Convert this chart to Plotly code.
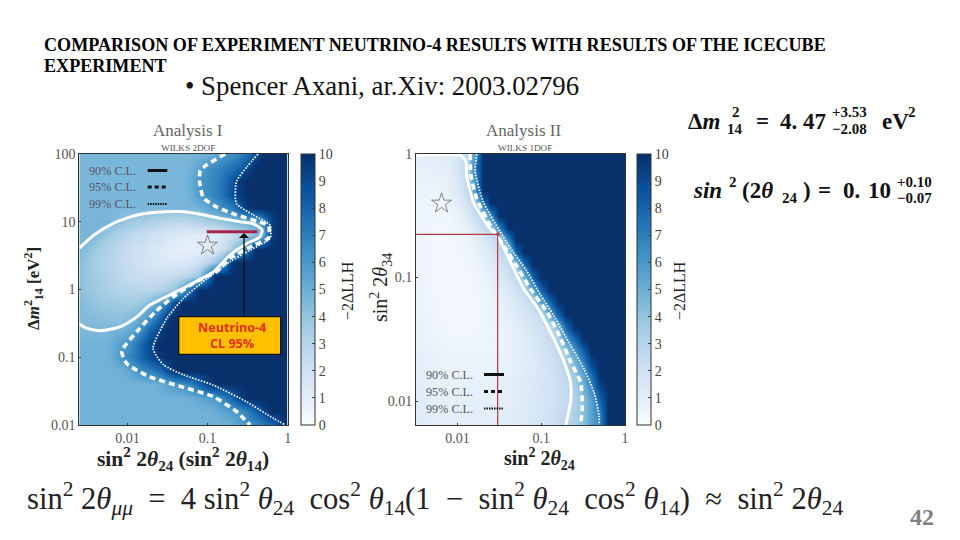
import numpy as np
import plotly.graph_objects as go

W, H = 960, 540
SERIF = "Liberation Serif"
DARK = 10
PAGE = 8  # the page draws the figure 8px in from its top left corner

# ---- Analysis I: -2dLLH, top row first; rows shorter than
# the grid are saturated (dark) for the remaining columns
a1_logx = [-2.6, -2.5, -2.4, -2.3, -2.2, -2.1, -2.0, -1.9, -1.8, -1.7, -1.6, -1.5, -1.4, -1.3,
           -1.2, -1.1, -1.0, -0.9, -0.8, -0.7, -0.6, -0.5, -0.4, -0.3, -0.2, -0.1, 0.0]
a1_logy = [2.0, 1.8, 1.6, 1.4, 1.2, 1.0, 0.8, 0.6, 0.4, 0.2, 0.0, -0.2, -0.4, -0.6, -0.8, -1.0,
           -1.2, -1.4, -1.6, -1.8, -2.0]
a1_rows = [
 [4.7,4.7,4.7,4.7,4.7,4.7,4.7,4.7,4.7,4.7,4.7,4.7,4.7,4.7,4.7,4.7,4.8,5.2,5.9,6.3,6.8,7.5,8.8],
 [4.6,4.6,4.6,4.6,4.6,4.6,4.6,4.6,4.6,4.6,4.6,4.6,4.6,4.7,4.9,5.6,6.2,6.6,7.0,7.4,8.0,9.2],
 [4.6,4.6,4.6,4.6,4.6,4.6,4.6,4.6,4.6,4.6,4.6,4.6,4.6,4.6,5.2,6.0,6.4,6.8,7.5,8.5,9.6],
 [4.6,4.6,4.6,4.6,4.6,4.6,4.6,4.6,4.6,4.6,4.6,4.6,4.6,4.6,5.0,5.8,6.3,6.8,7.5,8.6,9.6],
 [4.6,4.6,4.6,4.6,4.6,4.6,4.6,4.6,4.6,4.6,4.6,4.6,4.6,4.6,4.7,4.8,5.3,5.9,6.4,7.0,8.2,9.8],
 [4.7,4.7,4.7,4.7,4.6,4.2,3.8,3.6,3.4,3.2,3.0,2.8,2.7,2.7,2.9,3.1,3.4,3.6,4.0,4.4,4.7,5.0,5.5,6.5,9.2],
 [4.7,4.7,4.5,4.0,3.6,3.2,2.9,2.6,2.4,2.1,1.9,1.6,1.4,1.2,1.1,1.1,1.2,1.4,1.7,2.2,2.8,3.5,4.2,5.2,9.5],
 [4.6,4.2,3.7,3.3,3.0,2.7,2.4,2.1,1.9,1.6,1.4,1.2,1.0,0.9,0.9,1.0,1.2,1.5,2.3,3.5,5.0,7.5],
 [4.3,3.9,3.5,3.2,2.9,2.6,2.4,2.1,1.9,1.7,1.5,1.4,1.4,1.5,1.7,2.1,2.7,3.7,5.5,9.5],
 [4.2,3.9,3.6,3.3,3.0,2.8,2.6,2.4,2.3,2.2,2.2,2.3,2.5,2.8,3.2,4.0,7.0],
 [4.2,3.9,3.7,3.5,3.3,3.1,3.0,2.9,2.9,3.0,3.2,3.5,4.1,5.8,8.4],
 [4.4,4.2,4.0,3.8,3.7,3.6,3.6,3.7,4.0,4.6,5.6,7.0,9.2],
 [4.5,4.4,4.3,4.2,4.1,4.1,4.3,4.6,5.3,6.2,7.7,9.5],
 [4.6,4.5,4.6,4.6,4.7,4.8,5.0,5.6,6.8,8.2,9.3],
 [4.8,4.8,4.8,4.8,5.0,5.6,6.1,7.0,8.2,9.2],
 [4.8,4.8,4.8,4.8,5.0,5.8,6.5,7.2,8.2,9.0,9.7],
 [4.8,4.8,4.8,4.8,4.8,4.8,5.2,5.9,6.5,7.0,7.6,8.8],
 [4.8,4.8,4.8,4.8,4.8,4.8,4.8,4.8,4.8,4.8,5.0,5.5,6.0,6.5,7.0,8.0,9.2],
 [4.8,4.8,4.8,4.8,4.8,4.8,4.8,4.8,4.8,4.8,4.8,4.8,4.8,4.8,5.0,5.3,5.7,6.0,6.8,7.8,9.2],
 [4.8,4.8,4.8,4.8,4.8,4.8,4.8,4.8,4.8,4.8,4.8,4.8,4.8,4.8,4.8,4.8,4.8,5.0,5.4,5.8,6.2,7.0,8.0,9.2],
 [4.8,4.8,4.8,4.8,4.8,4.8,4.8,4.8,4.8,4.8,4.8,4.8,4.8,4.8,4.8,4.8,4.8,4.8,4.8,5.0,5.5,5.9,6.5,7.0,7.8,8.9],
]
# Analysis I contours, as log10 of the axis values
a1_c90_x = [-2.60,-2.42,-2.17,-1.88,-1.63,-1.34,-1.09,-0.84,-0.59,-0.43,-0.32,-0.35,-0.51,-0.72,-0.93,-1.22,-1.47,-1.72,-1.88,-2.09,-2.34,-2.51,-2.60]
a1_c90_y = [0.61,0.80,0.98,1.10,1.14,1.15,1.11,1.05,1.00,0.97,0.88,0.77,0.68,0.51,0.26,0.07,-0.08,-0.23,-0.40,-0.55,-0.61,-0.57,-0.51]
a1_c95_x = [-0.78,-1.01,-1.09,-1.10,-1.05,-0.89,-0.64,-0.39,-0.24,-0.24,-0.43,-0.72,-0.89,-1.14,-1.43,-1.65,-1.88,-2.07,-2.01,-1.72,-1.34,-0.93,-0.64,-0.47]
a1_c95_y = [2.00,1.84,1.76,1.59,1.35,1.22,1.10,1.01,0.94,0.76,0.65,0.46,0.26,0.12,-0.11,-0.33,-0.62,-0.91,-1.09,-1.29,-1.43,-1.58,-1.80,-2.00]
a1_c99_x = [-0.37,-0.51,-0.64,-0.64,-0.43,-0.22,-0.22,-0.47,-0.72,-1.01,-1.30,-1.51,-1.68,-1.55,-1.30,-0.93,-0.51,-0.18,-0.03]
a1_c99_y = [2.00,1.81,1.59,1.27,1.10,0.95,0.76,0.58,0.41,0.16,-0.13,-0.43,-0.87,-1.11,-1.26,-1.41,-1.66,-1.90,-2.00]
a1_star = (-1.0, 0.65)
nu4_x = [-1.01, -0.38]
nu4_y = [0.854, 0.854]

# ---- Analysis II
a2_logx = [-2.5,-2.4,-2.3,-2.2,-2.1,-2.0,-1.9,-1.8,-1.7,-1.6,-1.5,-1.4,-1.3,-1.2,-1.1,-1.0,-0.9,-0.8,-0.7,-0.6,-0.5,-0.4,-0.3,-0.2,-0.1,0.0]
a2_logy = [0.0,-0.1,-0.2,-0.3,-0.4,-0.5,-0.6,-0.7,-0.8,-0.9,-1.0,-1.1,-1.2,-1.3,-1.4,-1.5,-1.6,-1.7,-1.8,-1.9,-2.0,-2.1,-2.2]
a2_rows = [
 [1.2,1.1,1.1,1.1,1.2,1.6,2.7,5.5],
 [0.9,0.9,1.0,1.0,1.1,1.7,2.7,6.6],
 [0.7,0.7,0.8,0.8,1.0,1.5,2.6,6.0],
 [0.6,0.6,0.6,0.6,0.8,1.3,2.3,5.5],
 [0.5,0.5,0.5,0.5,0.6,1.0,1.8,2.7,7.5],
 [0.5,0.4,0.4,0.4,0.4,0.7,1.2,2.2,3.4,6.6],
 [0.5,0.4,0.3,0.3,0.3,0.5,0.8,1.4,2.3,3.4,6.8],
 [0.5,0.4,0.3,0.3,0.3,0.4,0.5,0.9,1.4,2.0,2.7,6.6],
 [0.5,0.4,0.3,0.2,0.2,0.3,0.4,0.6,1.0,1.5,2.2,3.2,8.0],
 [0.5,0.4,0.3,0.2,0.2,0.2,0.3,0.5,0.8,1.2,1.7,2.5,3.8,7.5],
 [0.6,0.4,0.3,0.2,0.2,0.2,0.3,0.4,0.6,0.9,1.3,1.9,2.6,4.5,8.0],
 [0.6,0.5,0.3,0.2,0.2,0.2,0.2,0.3,0.5,0.7,1.0,1.4,2.0,2.7,5.5,8.0],
 [0.7,0.5,0.4,0.3,0.2,0.2,0.2,0.3,0.4,0.6,0.8,1.1,1.5,2.0,2.7,5.5,8.0],
 [0.7,0.6,0.4,0.3,0.3,0.2,0.2,0.3,0.4,0.5,0.7,0.9,1.2,1.6,2.0,2.5,5.5,8.0],
 [0.8,0.6,0.5,0.4,0.3,0.3,0.3,0.3,0.4,0.5,0.6,0.8,1.0,1.3,1.7,2.1,2.6,4.5,8.0],
 [0.8,0.7,0.6,0.5,0.4,0.4,0.4,0.4,0.4,0.5,0.6,0.7,0.9,1.1,1.5,1.9,2.4,3.2,6.0,8.0],
 [0.9,0.8,0.7,0.6,0.5,0.5,0.5,0.5,0.5,0.5,0.6,0.7,0.9,1.1,1.4,1.7,2.1,2.6,3.6,6.0,8.0],
 [1.0,0.9,0.8,0.7,0.6,0.6,0.6,0.6,0.6,0.6,0.7,0.8,0.9,1.1,1.3,1.6,2.0,2.4,3.2,4.5,6.6,9.0],
 [1.0,0.9,0.9,0.8,0.7,0.7,0.7,0.7,0.7,0.7,0.8,0.9,1.0,1.2,1.4,1.6,1.9,2.3,2.8,3.8,5.3,7.5],
 [1.1,1.0,0.9,0.9,0.8,0.8,0.8,0.8,0.8,0.8,0.9,1.0,1.1,1.2,1.4,1.7,1.9,2.2,2.6,3.4,4.6,6.5,9.0],
 [1.2,1.1,1.0,0.9,0.9,0.9,0.9,0.9,0.9,0.9,1.0,1.0,1.1,1.3,1.5,1.7,1.9,2.2,2.6,3.2,4.2,5.5,8.0],
 [1.2,1.1,1.0,1.0,1.0,1.0,1.0,1.0,1.0,1.0,1.0,1.1,1.2,1.3,1.5,1.7,2.0,2.3,2.8,3.3,4.2,5.5,7.0],
 [1.3,1.2,1.1,1.0,1.0,1.0,1.0,1.0,1.0,1.0,1.1,1.1,1.2,1.4,1.6,1.8,2.0,2.4,2.9,3.4,4.2,5.5,7.0],
]
a2_c90_x = [-2.49,-1.97,-1.90,-1.89,-1.81,-1.63,-1.51,-1.37,-1.21,-1.05,-0.89,-0.73,-0.65,-0.65,-0.71]
a2_c90_y = [-0.01,-0.01,-0.06,-0.17,-0.39,-0.59,-0.68,-0.87,-1.09,-1.24,-1.44,-1.68,-1.85,-2.01,-2.20]
a2_c95_x = [-1.85,-1.84,-1.77,-1.59,-1.45,-1.29,-1.13,-0.93,-0.77,-0.65,-0.53,-0.51,-0.53]
a2_c95_y = [0.00,-0.17,-0.36,-0.60,-0.74,-0.91,-1.09,-1.28,-1.49,-1.68,-1.85,-2.04,-2.20]
a2_c99_x = [-1.77,-1.79,-1.69,-1.49,-1.37,-1.17,-1.01,-0.85,-0.65,-0.49,-0.37,-0.31,-0.31]
a2_c99_y = [0.00,-0.14,-0.39,-0.63,-0.76,-0.95,-1.14,-1.31,-1.55,-1.74,-1.93,-2.12,-2.20]
a2_star = (-2.19, -0.40)
a2_cross_x = (-1.52)
a2_cross_y = (-0.65)

cbar_ticks = [0, 1, 2, 3, 4, 5, 6, 7, 8, 9, 10]
a1_xticks = [0.01, 0.1, 1]
a1_xlabels = ["0.01", "0.1", "1"]
a1_yticks = [100, 10, 1, 0.1, 0.01]
a1_ylabels = ["100", "10", "1", "0.1", "0.01"]
a2_yticks = [1, 0.1, 0.01]
a2_ylabels = ["1", "0.1", "0.01"]
cl_labels = ["90% C.L.", "95% C.L.", "99% C.L."]

BLUES = [[0, "#f7fbff"], [.125, "#deebf7"], [.25, "#c6dbef"], [.375, "#9ecae1"], [.5, "#6baed6"],
         [.625, "#4292c6"], [.75, "#2171b5"], [.875, "#08519c"], [1, "#08306b"]]

def pad(rows, n):
    return [r + [DARK] * (n - len(r)) for r in rows]

def p10(v):
    return (10.0 ** np.array(v)).tolist()

def fx(px): return (px - PAGE) / W
def fy(py): return 1 - (py - PAGE) / H

fig = go.Figure()

def heat(logx, logy, rows, xa, ya, cb_left):
    fig.add_trace(go.Heatmap(
        x=p10(logx), y=p10(logy), z=pad(rows, len(logx)), xaxis=xa, yaxis=ya, zmin=0, zmax=10,
        colorscale=BLUES, zsmooth="best", hoverinfo="skip",
        colorbar=dict(thickness=13.5, thicknessmode="pixels", len=271 / H, lenmode="fraction",
                      x=fx(cb_left), xanchor="left", y=fy(154), yanchor="top", xpad=0, ypad=0,
                      outlinewidth=1, outlinecolor="#333", tickvals=cbar_ticks, ticks="inside",
                      ticklen=3, tickcolor="#444", tickfont=dict(family=SERIF, size=14, color="#444"))))

def line(x, y, xa, ya, color="white", width=3, dash="solid"):
    fig.add_trace(go.Scatter(x=p10(x), y=p10(y), xaxis=xa, yaxis=ya, mode="lines",
                             line=dict(color=color, width=width, dash=dash, shape="spline", smoothing=0.6),
                             hoverinfo="skip", showlegend=False))

heat(a1_logx, a1_logy, a1_rows, "x", "y", 300.7)
line(a1_c90_x, a1_c90_y, "x", "y", width=3)
line(a1_c95_x, a1_c95_y, "x", "y", width=3.6, dash="6px,4px")
line(a1_c99_x, a1_c99_y, "x", "y", width=1.8, dash="1.5px,1.5px")
fig.add_trace(go.Scatter(x=p10(nu4_x), y=p10(nu4_y), xaxis="x", yaxis="y", mode="lines",
                         line=dict(color="#a8234a", width=3), hoverinfo="skip", showlegend=False))
fig.add_trace(go.Scatter(x=p10([a1_star[0]]), y=p10([a1_star[1]]), xaxis="x", yaxis="y", mode="markers",
                         marker=dict(symbol="star-open", size=15, color="#555", line=dict(width=0.7, color="#555")),
                         hoverinfo="skip", showlegend=False))

heat(a2_logx, a2_logy, a2_rows, "x2", "y2", 637)
line(a2_c90_x, a2_c90_y, "x2", "y2", width=3)
line(a2_c95_x, a2_c95_y, "x2", "y2", width=3.6, dash="6px,4px")
line(a2_c99_x, a2_c99_y, "x2", "y2", width=1.8, dash="1.5px,1.5px")
RED = "#b23a48"
fig.add_trace(go.Scatter(x=p10([a2_logx[0], a2_cross_x]), y=p10([a2_cross_y, a2_cross_y]), xaxis="x2", yaxis="y2",
                         mode="lines", line=dict(color=RED, width=1.2), hoverinfo="skip", showlegend=False))
fig.add_trace(go.Scatter(x=p10([a2_cross_x, a2_cross_x]), y=p10([a2_logy[-1], a2_cross_y]), xaxis="x2", yaxis="y2",
                         mode="lines", line=dict(color=RED, width=1.2), hoverinfo="skip", showlegend=False))
fig.add_trace(go.Scatter(x=p10([a2_cross_x]), y=p10([a2_cross_y]), xaxis="x2", yaxis="y2", mode="markers",
                         marker=dict(symbol="triangle-up", size=5, color=RED), hoverinfo="skip", showlegend=False))
fig.add_trace(go.Scatter(x=p10([a2_star[0]]), y=p10([a2_star[1]]), xaxis="x2", yaxis="y2", mode="markers",
                         marker=dict(symbol="star-open", size=15, color="#555", line=dict(width=0.7, color="#555")),
                         hoverinfo="skip", showlegend=False))

def axis(rng, dom, ticks, labels, anchor):
    return dict(type="log", range=rng, domain=dom, tickvals=ticks, ticktext=labels, anchor=anchor,
                automargin=False,
                showgrid=False, zeroline=False, ticks="inside", ticklen=2, tickcolor="#444",
                showline=True, mirror=True, linecolor="#333", linewidth=1,
                tickfont=dict(family=SERIF, size=14, color="#555"))

ann, shp = [], []
def txt(s, px, py, size, color="#000", family=SERIF, anchor="left", angle=0):
    if anchor == "left":
        px -= 2.5  # annotation padding
    ann.append(dict(text=s, x=fx(px), y=fy(py), xref="paper", yref="paper", xanchor=anchor, yanchor="middle",
                    showarrow=False, textangle=angle, font=dict(family=family, size=size, color=color)))

def hline(x0, x1, py, width, dash):
    shp.append(dict(type="line", xref="paper", yref="paper", x0=fx(x0), x1=fx(x1), y0=fy(py), y1=fy(py),
                    line=dict(color="#111", width=width, dash=dash)))

# page text
txt("<b>COMPARISON OF EXPERIMENT NEUTRINO-4 RESULTS WITH RESULTS OF THE ICECUBE</b>", 44, 45, 18.1)
txt("<b>EXPERIMENT</b>", 44, 66, 18.1)
txt("• Spencer Axani, ar.Xiv: 2003.02796", 185, 86, 26.8, color="#111")

# panel titles
txt("Analysis I", 188, 131, 17, "#666", anchor="center")
txt("WILKS 2DOF", 188, 148, 9.2, "#555", anchor="center")
txt("Analysis II", 523, 131, 17, "#666", anchor="center")
txt("WILKS 1DOF", 525, 148, 9.2, "#555", anchor="center")

# axis titles
txt("<b>sin<sup>2</sup> 2<i>θ</i><sub>24</sub> (sin<sup>2</sup> 2<i>θ</i><sub>14</sub>)</b>", 183, 459, 21.5, "#222", anchor="center")
txt("<b>sin<sup>2</sup> 2<i>θ</i><sub>24</sub></b>", 539, 459, 20, "#222", anchor="center")
txt("<b>Δ<i>m</i><sup>2</sup><sub>14</sub> [eV<sup>2</sup>]</b>", 33, 289, 17, "#222", anchor="center", angle=-90)
txt("sin<sup>2</sup> 2<i>θ</i><sub>34</sub>", 381, 288, 20, "#222", anchor="center", angle=-90)
txt("−2ΔLLH", 347, 291, 16, "#222", anchor="center", angle=-90)
txt("−2ΔLLH", 679, 291, 16, "#222", anchor="center", angle=-90)

# in-plot legends
for lab, py, dash, w in zip(cl_labels, [170.5, 187, 204], ["solid", "4px,3px", "1.5px,1px"], [3, 3, 2]):
    txt(lab, 89, py, 12.2, "#556")
    hline(147.7, 167.3, py, w, dash)
for lab, py, dash, w in zip(cl_labels, [374.5, 391.5, 408.5], ["solid", "4px,3px", "1.5px,1px"], [3, 3, 2]):
    txt(lab, 426.7, py, 12.2, "#556")
    hline(484, 504, py, w, dash)

# Neutrino-4 box and arrow
shp.append(dict(type="rect", xref="paper", yref="paper", x0=fx(178.7), x1=fx(280.7), y0=fy(316.7), y1=fy(354.3),
                fillcolor="#ffc000", line=dict(color="#111", width=1.3)))
txt("<b>Neutrino-4</b>", 232, 327, 12.6, "#e0301e", "Open Sans", "center")
txt("<b>CL 95%</b>", 232, 343, 12.6, "#e0301e", "Open Sans", "center")
ann.append(dict(x=fx(244), y=fy(233), ax=0, ay=83.7, xref="paper", yref="paper", axref="pixel", ayref="pixel",
                showarrow=True, arrowhead=1, arrowsize=1.2, arrowwidth=1.4, arrowcolor="#111", text=""))

# fit results (upper right)
MF = "Liberation Serif"
BIG, SM = 23, 15
txt("<b>Δ<i>m</i></b>", 688, 121, BIG, "#111", MF)
txt("<b>2</b>", 732, 112, SM, "#111", MF)
txt("<b>14</b>", 727, 129, SM, "#111", MF)
txt("<b>=</b>", 756, 121, BIG, "#111", MF)
txt("<b>4.</b>", 780, 121, BIG, "#111", MF)
txt("<b>47</b>", 803, 121, BIG, "#111", MF)
txt("<b>+3.53</b>", 832, 112, SM, "#111", MF)
txt("<b>−2.08</b>", 832, 129, SM, "#111", MF)
txt("<b>eV</b>", 882, 121, BIG, "#111", MF)
txt("<b>2</b>", 908, 112, SM, "#111", MF)

txt("<b><i>sin</i></b>", 693, 190, BIG, "#111", MF)
txt("<b>2</b>", 729, 182, SM, "#111", MF)
txt("<b>(2<i>θ</i></b>", 742, 190, BIG, "#111", MF)
txt("<b>24</b>", 782, 198, SM, "#111", MF)
txt("<b>)</b>", 803, 190, BIG, "#111", MF)
txt("<b>=</b>", 818, 190, BIG, "#111", MF)
txt("<b>0.</b>", 843, 190, BIG, "#111", MF)
txt("<b>10</b>", 868, 190, BIG, "#111", MF)
txt("<b>+0.10</b>", 897, 182, SM, "#111", MF)
txt("<b>−0.07</b>", 897, 198, SM, "#111", MF)

# formula
SP = "\u00a0"
txt("sin<sup>2</sup> 2<i>θ</i><sub><i>μμ</i></sub>" + SP + " = " + SP + "4 sin<sup>2</sup> <i>θ</i><sub>24</sub>" + SP + " cos<sup>2</sup> <i>θ</i><sub>14</sub>"
    "(1 " + SP + "− " + SP + "sin<sup>2</sup> <i>θ</i><sub>24</sub>" + SP + " cos<sup>2</sup> <i>θ</i><sub>14</sub>)" + SP + " ≈ " + SP + "sin<sup>2</sup> 2<i>θ</i><sub>24</sub>",
    27, 498, 30.6, "#222")
txt("<b>42</b>", 921.5, 517, 24, "#808080", "Liberation Sans Narrow", "center")

fig.update_layout(
    width=W, height=H, margin=dict(l=0, r=0, t=0, b=0, autoexpand=False), paper_bgcolor="white", plot_bgcolor="white",
    showlegend=False, annotations=ann, shapes=shp,
    xaxis=axis([-2.6, 0], [fx(79.3), fx(287.7)], a1_xticks, a1_xlabels, "y"),
    yaxis=axis([-2, 2], [fy(425), fy(154)], a1_yticks, a1_ylabels, "x"),
    xaxis2=axis([-2.495, 0], [fx(416), fx(625)], a1_xticks, a1_xlabels, "y2"),
    yaxis2=axis([-2.194, 0], [fy(425), fy(154)], a2_yticks, a2_ylabels, "x2"),
)
fig.write_html("out.html")
